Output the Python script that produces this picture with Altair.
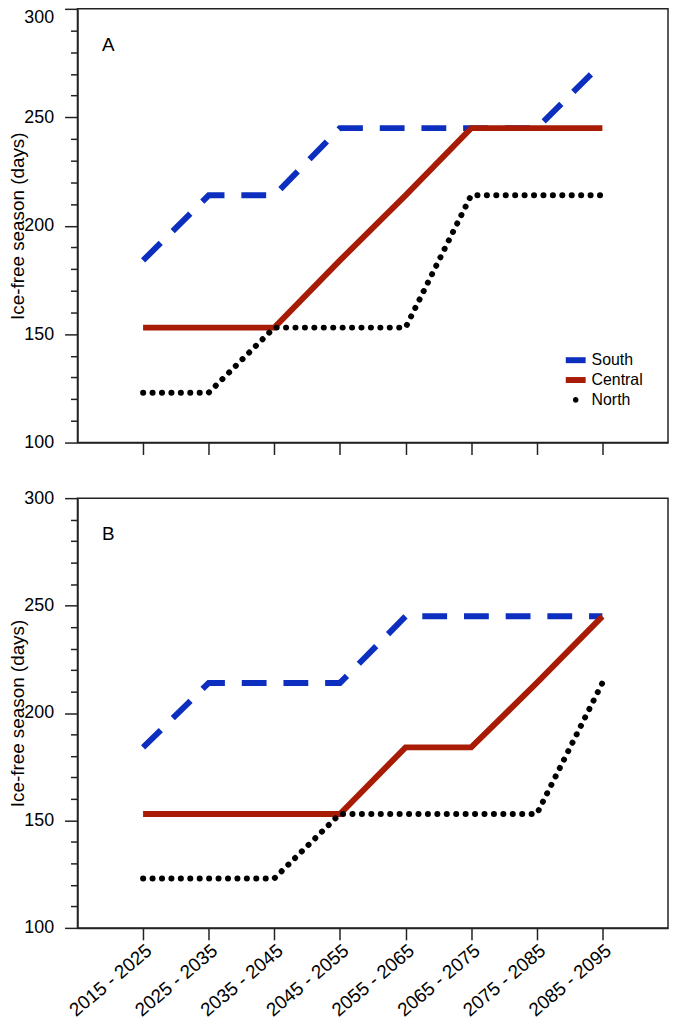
import altair as alt
import pandas as pd

# ---------------- data ----------------
periods = ["2015 - 2025", "2025 - 2035", "2035 - 2045", "2045 - 2055",
           "2055 - 2065", "2065 - 2075", "2075 - 2085", "2085 - 2095"]
series = ["South", "Central", "North"]

a_south = [184, 214, 214, 245, 245, 245, 245, 275]
a_central = [153, 153, 153, 184, 214, 245, 245, 245]
a_north = [123, 123, 153, 153, 153, 214, 214, 214]

b_south = [184, 214, 214, 214, 245, 245, 245, 245]
b_central = [153, 153, 153, 153, 184, 184, 214, 245]
b_north = [123, 123, 123, 153, 153, 153, 153, 214]

y_ticks = [100, 110, 120, 130, 140, 150, 160, 170, 180, 190, 200,
           210, 220, 230, 240, 250, 260, 270, 280, 290, 300]

# ---------------- styles ----------------
FONT = "Liberation Sans"
BLUE = "#0c2fc0"
RED = "#a81b05"
BLACK = "#000000"
AXC = "#222222"
RECT = "M-1,-0.3H1V0.3H-1Z"
DOT = "M0.28,0A0.28,0.28,0,1,1,-0.28,0A0.28,0.28,0,1,1,0.28,0Z"

line_style = {
    "South": dict(color=BLUE, strokeDash=[25, 17], strokeCap="butt"),
    "Central": dict(color=RED, strokeCap="butt"),
    "North": dict(color=BLACK, strokeDash=[0.1, 9.4], strokeCap="round"),
}

W = 595


def panel(south, central, north, letter, height, show_labels, with_legend, flush_top):
    df = pd.DataFrame({
        "period": periods * 3,
        "series": [s for s in series for _ in periods],
        "days": south + central + north,
    })
    x_axis = alt.Axis(
        title=None, labels=show_labels, labelAngle=-40, labelAlign="right",
        labelBaseline="top", labelPadding=1, ticks=True, tickSize=12,
        labelFontSize=19,
    )
    x = alt.X("period:O", sort=periods,
              scale=alt.Scale(type="point", padding=1), axis=x_axis)
    yscale = alt.Scale(domain=[100, 300], nice=False, zero=False)
    y_kwargs = dict(
        values=y_ticks, orient="left", labelOverlap=False,
        tickSize={"condition": {"test": "datum.value % 50 == 0", "value": 13}, "value": 7},
        labelExpr="datum.value % 50 == 0 ? datum.label : ''",
        title="Ice-free season (days)", titlePadding=-4, labelPadding=11,
    )
    if flush_top:
        y_kwargs["labelBaseline"] = {
            "condition": {"test": "datum.value == 300", "value": "top"},
            "value": "middle",
        }
    y_axis = alt.Axis(**y_kwargs)
    layers = []
    for s in series:
        layers.append(
            alt.Chart(df)
            .transform_filter(alt.datum.series == s)
            .mark_line(strokeWidth=6, **line_style[s])
            .encode(x=x, y=alt.Y("days:Q", scale=yscale, axis=y_axis))
        )
    if with_legend:
        leg = alt.Legend(
            title=None, orient="none", legendX=492, legendY=344,
            labelFont=FONT, labelFontSize=16, labelColor="black",
            symbolSize=400, symbolStrokeWidth=0, symbolOpacity=1,
            rowPadding=2, labelOffset=6, padding=0,
        )
        layers.append(
            alt.Chart(pd.DataFrame({"series": series}))
            .transform_filter("false")
            .mark_point(filled=True, opacity=1, size=400)
            .encode(
                color=alt.Color("series:N", scale=alt.Scale(domain=series, range=[BLUE, RED, BLACK]), legend=leg),
                shape=alt.Shape("series:N", scale=alt.Scale(domain=series, range=[RECT, RECT, DOT]), legend=leg),
            )
        )
    layers.append(
        alt.Chart(pd.DataFrame({"letter": [letter]}))
        .mark_text(font=FONT, fontSize=19, align="center", baseline="middle", color="black")
        .encode(text="letter:N", x=alt.value(31), y=alt.value(36))
    )
    return alt.layer(*layers).properties(width=W, height=height)


top = panel(a_south, a_central, a_north, "A", 437, False, True, True)
bottom = panel(b_south, b_central, b_north, "B", 433, True, False, False)

chart = (
    alt.vconcat(top, bottom, spacing=32)
    .resolve_legend(color="independent", shape="independent")
    .properties(padding={"left": 0, "top": -5, "right": 0, "bottom": 0})
    .configure_view(stroke=AXC, strokeWidth=1.5)
    .configure_axis(
        domainColor=AXC, tickColor=AXC, domainWidth=1.5, tickWidth=1.5,
        labelFont=FONT, titleFont=FONT, labelColor="black", titleColor="black",
        grid=False, labelFontSize=18, titleFontSize=19, titleFontWeight="normal",
    )
)

chart.save("out.html", embed_options={"renderer": "svg", "actions": False})
